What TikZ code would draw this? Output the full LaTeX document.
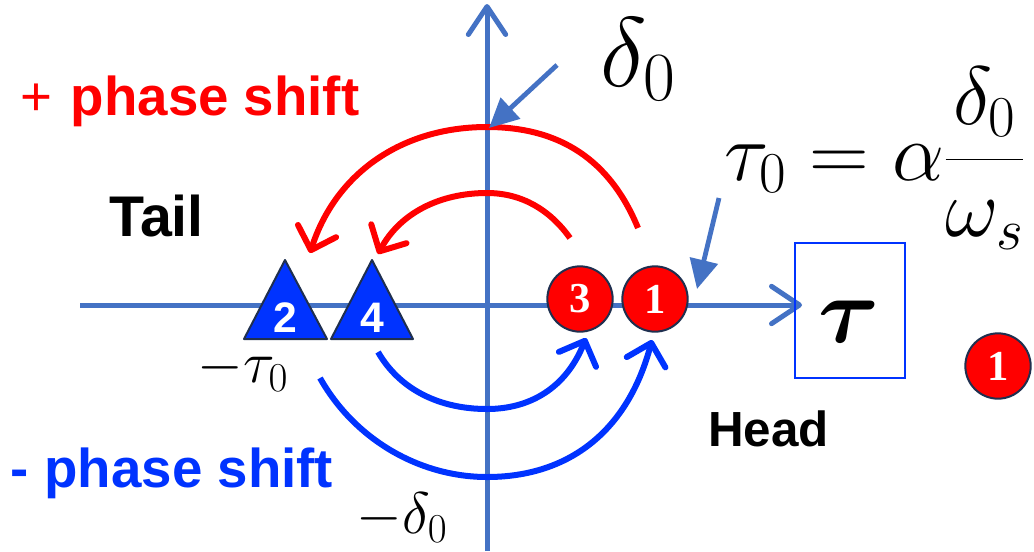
\RequirePackage{fix-cm}
\documentclass[tikz,border=0pt]{standalone}
\usepackage{amsmath,bm}
\usepackage{fontspec}
\setmainfont{Liberation Sans}
\newfontfamily\numfont{Liberation Serif}
\usetikzlibrary{arrows.meta}
\definecolor{axisblue}{HTML}{4472C4}
\definecolor{brightblue}{HTML}{0033FF}
\definecolor{navy}{HTML}{1F2F4F}
\definecolor{pred}{HTML}{FF0000}
\begin{document}
\begin{tikzpicture}[x=0.75pt,y=-0.75pt,
  axisline/.style={draw=axisblue, line width=3.75pt, -{Straight Barb[length=21pt,width=28pt,round]}},
  redarc/.style={draw=pred, line width=4.5pt, -{Straight Barb[length=15pt,width=30pt,round]}},
  bluearc/.style={draw=brightblue, line width=4.5pt, -{Straight Barb[length=15pt,width=30pt,round]}},
  pointer/.style={draw=axisblue, fill=axisblue, line width=3.6pt, -{Triangle[length=22pt,width=21pt]}},
  redball/.style={circle, fill=pred, draw=navy, line width=1.5pt, minimum size=49pt, inner sep=0pt,
    text=white, font=\numfont\bfseries\fontsize{32}{32}\selectfont},
  tri/.style={fill=brightblue, draw=navy, line width=1.5pt, line join=round},
  trinum/.style={text=white, font=\bfseries\fontsize{32}{32}\selectfont, inner sep=0pt},
  lbl/.style={font=\bfseries\fontsize{41}{44}\selectfont, inner sep=0pt},
  mathlbl/.style={font=\fontsize{44}{50}\selectfont, inner sep=0pt}
]
\path[use as bounding box, clip] (0,0) rectangle (1034,551);

% axes
\coordinate (xl) at (80,305);
\coordinate (xr) at (802,305);
\coordinate (yb) at (487,551);
\coordinate (yt) at (487,4);
\draw[axisline] (xl) -- (xr);
\draw[axisline] (yb) -- (yt);

% tau box
\node[draw=brightblue, line width=1.2pt, minimum width=82.5pt, minimum height=101pt, inner sep=0pt] (taubox) at (850,310.5) {};
\node[font=\fontsize{70}{80}\selectfont, inner sep=0pt] (taulbl) at (849,322) {$\bm{\tau}$};

% red phase arcs
\coordinate (ro1) at (638,228);
\coordinate (ro2) at (310,253);
\coordinate (ri1) at (570,238);
\coordinate (ri2) at (378,254);
\draw[redarc] (ro1) .. controls (610,160) and (560,127) .. (487,127)
   .. controls (400,127) and (335,175) .. (ro2);
\draw[redarc] (ri1) .. controls (550,210) and (522,193) .. (487,193)
   .. controls (440,193) and (400,213) .. (ri2);

% blue phase arcs
\coordinate (bi1) at (378,352);
\coordinate (bi2) at (586,338);
\coordinate (bo1) at (320,378);
\coordinate (bo2) at (652,340);
\draw[bluearc] (bi1) .. controls (400,390) and (440,409) .. (487,409)
   .. controls (530,409) and (566,388) .. (bi2);
\draw[bluearc] (bo1) .. controls (355,440) and (420,477) .. (487,477)
   .. controls (570,477) and (628,430) .. (bo2);

% triangles
\draw[tri] (244,339) -- (285,260) -- (327,339) -- cycle;
\draw[tri] (331,339) -- (372,260) -- (413,339) -- cycle;
\node[trinum] (t2) at (285,318) {2};
\node[trinum] (t4) at (372,318) {4};

% red balls
\node[redball] (c3) at (580,299) {3};
\node[redball] (c1) at (655,299) {1};
\node[redball] (c1b) at (998,366) {1};

% pointers
\coordinate (dtail) at (557,65);
\coordinate (dtip) at (489,128);
\draw[pointer] (dtail) -- (dtip);
\coordinate (ttail) at (719,198);
\coordinate (ttip) at (697,289);
\draw[pointer] (ttail) -- (ttip);

% math labels
\node[font=\fontsize{74}{80}\selectfont, inner sep=0pt, anchor=base west] (delta) at (600,86) {$\delta_0$};
\node[font=\fontsize{62}{70}\selectfont, inner sep=0pt, anchor=base west] (tau0) at (724,180)
  {$\displaystyle \tau_0 = \alpha\frac{\delta_0}{\omega_s}$};
\node[mathlbl] (mtau) at (243,370) {$-\tau_0$};
\node[mathlbl] (mdelta) at (402,518) {$-\delta_0$};

% text labels
\node[lbl, text=pred, anchor=base west] (plus) at (20,115) {\mdseries+\hspace{14pt}\bfseries phase shift};
\node[lbl, text=brightblue, anchor=base west] (minus) at (10,487) {-\hspace{12pt}phase shift};
\node[lbl, anchor=base west, font=\bfseries\fontsize{43}{46}\selectfont] (tail) at (109,236) {Tail};
\node[lbl, anchor=base west, font=\bfseries\fontsize{37}{40}\selectfont] (head) at (708,446) {Head};
\end{tikzpicture}
\end{document}
